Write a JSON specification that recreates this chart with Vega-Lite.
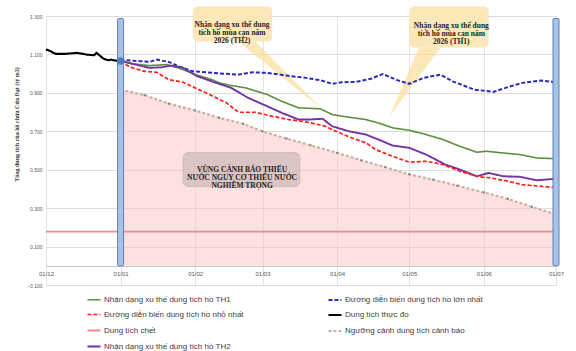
{
  "$schema": "https://vega.github.io/schema/vega-lite/v6.json",
  "width": 510,
  "height": 269,
  "autosize": {"type": "none"},
  "padding": {"left": 46, "top": 16, "right": 20, "bottom": 66},
  "background": "white",
  "config": {"view": {"stroke": null}, "font": "Liberation Sans"},
  "datasets": {
    "lines": [
      {"date": "2025-12-01", "v": 1.125, "s": "Dung tích thực đo"},
      {"date": "2025-12-02", "v": 1.122, "s": "Dung tích thực đo"},
      {"date": "2025-12-05", "v": 1.103, "s": "Dung tích thực đo"},
      {"date": "2025-12-09", "v": 1.103, "s": "Dung tích thực đo"},
      {"date": "2025-12-14", "v": 1.108, "s": "Dung tích thực đo"},
      {"date": "2025-12-18", "v": 1.099, "s": "Dung tích thực đo"},
      {"date": "2025-12-21", "v": 1.096, "s": "Dung tích thực đo"},
      {"date": "2025-12-22", "v": 1.108, "s": "Dung tích thực đo"},
      {"date": "2025-12-25", "v": 1.077, "s": "Dung tích thực đo"},
      {"date": "2025-12-27", "v": 1.070, "s": "Dung tích thực đo"},
      {"date": "2025-12-28", "v": 1.073, "s": "Dung tích thực đo"},
      {"date": "2025-12-31", "v": 1.065, "s": "Dung tích thực đo"},
      {"date": "2026-01-01", "v": 1.066, "s": "Dung tích thực đo"},

      {"date": "2026-01-01", "v": 1.066, "s": "Đường diễn biến dung tích hồ lớn nhất"},
      {"date": "2026-01-03", "v": 1.070, "s": "Đường diễn biến dung tích hồ lớn nhất"},
      {"date": "2026-01-09", "v": 1.065, "s": "Đường diễn biến dung tích hồ lớn nhất"},
      {"date": "2026-01-13", "v": 1.061, "s": "Đường diễn biến dung tích hồ lớn nhất"},
      {"date": "2026-01-16", "v": 1.073, "s": "Đường diễn biến dung tích hồ lớn nhất"},
      {"date": "2026-01-21", "v": 1.061, "s": "Đường diễn biến dung tích hồ lớn nhất"},
      {"date": "2026-01-25", "v": 1.039, "s": "Đường diễn biến dung tích hồ lớn nhất"},
      {"date": "2026-01-31", "v": 1.012, "s": "Đường diễn biến dung tích hồ lớn nhất"},
      {"date": "2026-02-06", "v": 1.007, "s": "Đường diễn biến dung tích hồ lớn nhất"},
      {"date": "2026-02-11", "v": 1.001, "s": "Đường diễn biến dung tích hồ lớn nhất"},
      {"date": "2026-02-19", "v": 0.995, "s": "Đường diễn biến dung tích hồ lớn nhất"},
      {"date": "2026-02-25", "v": 1.007, "s": "Đường diễn biến dung tích hồ lớn nhất"},
      {"date": "2026-03-03", "v": 1.004, "s": "Đường diễn biến dung tích hồ lớn nhất"},
      {"date": "2026-03-11", "v": 0.990, "s": "Đường diễn biến dung tích hồ lớn nhất"},
      {"date": "2026-03-19", "v": 0.978, "s": "Đường diễn biến dung tích hồ lớn nhất"},
      {"date": "2026-03-25", "v": 0.966, "s": "Đường diễn biến dung tích hồ lớn nhất"},
      {"date": "2026-03-30", "v": 0.947, "s": "Đường diễn biến dung tích hồ lớn nhất"},
      {"date": "2026-04-03", "v": 0.955, "s": "Đường diễn biến dung tích hồ lớn nhất"},
      {"date": "2026-04-09", "v": 0.957, "s": "Đường diễn biến dung tích hồ lớn nhất"},
      {"date": "2026-04-15", "v": 0.973, "s": "Đường diễn biến dung tích hồ lớn nhất"},
      {"date": "2026-04-20", "v": 0.998, "s": "Đường diễn biến dung tích hồ lớn nhất"},
      {"date": "2026-04-26", "v": 0.966, "s": "Đường diễn biến dung tích hồ lớn nhất"},
      {"date": "2026-05-01", "v": 0.947, "s": "Đường diễn biến dung tích hồ lớn nhất"},
      {"date": "2026-05-07", "v": 0.978, "s": "Đường diễn biến dung tích hồ lớn nhất"},
      {"date": "2026-05-14", "v": 0.995, "s": "Đường diễn biến dung tích hồ lớn nhất"},
      {"date": "2026-05-19", "v": 0.960, "s": "Đường diễn biến dung tích hồ lớn nhất"},
      {"date": "2026-05-28", "v": 0.917, "s": "Đường diễn biến dung tích hồ lớn nhất"},
      {"date": "2026-06-05", "v": 0.905, "s": "Đường diễn biến dung tích hồ lớn nhất"},
      {"date": "2026-06-10", "v": 0.926, "s": "Đường diễn biến dung tích hồ lớn nhất"},
      {"date": "2026-06-17", "v": 0.952, "s": "Đường diễn biến dung tích hồ lớn nhất"},
      {"date": "2026-06-25", "v": 0.964, "s": "Đường diễn biến dung tích hồ lớn nhất"},
      {"date": "2026-06-30", "v": 0.956, "s": "Đường diễn biến dung tích hồ lớn nhất"},

      {"date": "2026-01-01", "v": 1.066, "s": "Nhận dạng xu thế dung tích hồ TH1"},
      {"date": "2026-01-06", "v": 1.051, "s": "Nhận dạng xu thế dung tích hồ TH1"},
      {"date": "2026-01-13", "v": 1.042, "s": "Nhận dạng xu thế dung tích hồ TH1"},
      {"date": "2026-01-20", "v": 1.047, "s": "Nhận dạng xu thế dung tích hồ TH1"},
      {"date": "2026-01-25", "v": 1.030, "s": "Nhận dạng xu thế dung tích hồ TH1"},
      {"date": "2026-02-01", "v": 0.995, "s": "Nhận dạng xu thế dung tích hồ TH1"},
      {"date": "2026-02-08", "v": 0.969, "s": "Nhận dạng xu thế dung tích hồ TH1"},
      {"date": "2026-02-11", "v": 0.952, "s": "Nhận dạng xu thế dung tích hồ TH1"},
      {"date": "2026-02-16", "v": 0.938, "s": "Nhận dạng xu thế dung tích hồ TH1"},
      {"date": "2026-02-22", "v": 0.926, "s": "Nhận dạng xu thế dung tích hồ TH1"},
      {"date": "2026-03-03", "v": 0.891, "s": "Nhận dạng xu thế dung tích hồ TH1"},
      {"date": "2026-03-09", "v": 0.856, "s": "Nhận dạng xu thế dung tích hồ TH1"},
      {"date": "2026-03-16", "v": 0.822, "s": "Nhận dạng xu thế dung tích hồ TH1"},
      {"date": "2026-03-25", "v": 0.817, "s": "Nhận dạng xu thế dung tích hồ TH1"},
      {"date": "2026-03-30", "v": 0.787, "s": "Nhận dạng xu thế dung tích hồ TH1"},
      {"date": "2026-04-06", "v": 0.773, "s": "Nhận dạng xu thế dung tích hồ TH1"},
      {"date": "2026-04-13", "v": 0.761, "s": "Nhận dạng xu thế dung tích hồ TH1"},
      {"date": "2026-04-19", "v": 0.740, "s": "Nhận dạng xu thế dung tích hồ TH1"},
      {"date": "2026-04-24", "v": 0.718, "s": "Nhận dạng xu thế dung tích hồ TH1"},
      {"date": "2026-05-01", "v": 0.705, "s": "Nhận dạng xu thế dung tích hồ TH1"},
      {"date": "2026-05-08", "v": 0.683, "s": "Nhận dạng xu thế dung tích hồ TH1"},
      {"date": "2026-05-15", "v": 0.657, "s": "Nhận dạng xu thế dung tích hồ TH1"},
      {"date": "2026-05-22", "v": 0.622, "s": "Nhận dạng xu thế dung tích hồ TH1"},
      {"date": "2026-05-29", "v": 0.591, "s": "Nhận dạng xu thế dung tích hồ TH1"},
      {"date": "2026-06-02", "v": 0.596, "s": "Nhận dạng xu thế dung tích hồ TH1"},
      {"date": "2026-06-09", "v": 0.587, "s": "Nhận dạng xu thế dung tích hồ TH1"},
      {"date": "2026-06-16", "v": 0.579, "s": "Nhận dạng xu thế dung tích hồ TH1"},
      {"date": "2026-06-23", "v": 0.561, "s": "Nhận dạng xu thế dung tích hồ TH1"},
      {"date": "2026-06-30", "v": 0.558, "s": "Nhận dạng xu thế dung tích hồ TH1"},

      {"date": "2026-01-01", "v": 1.066, "s": "Nhận dạng xu thế dung tích hồ TH2"},
      {"date": "2026-01-06", "v": 1.051, "s": "Nhận dạng xu thế dung tích hồ TH2"},
      {"date": "2026-01-13", "v": 1.030, "s": "Nhận dạng xu thế dung tích hồ TH2"},
      {"date": "2026-01-18", "v": 1.033, "s": "Nhận dạng xu thế dung tích hồ TH2"},
      {"date": "2026-01-22", "v": 1.042, "s": "Nhận dạng xu thế dung tích hồ TH2"},
      {"date": "2026-01-27", "v": 1.030, "s": "Nhận dạng xu thế dung tích hồ TH2"},
      {"date": "2026-02-02", "v": 0.986, "s": "Nhận dạng xu thế dung tích hồ TH2"},
      {"date": "2026-02-09", "v": 0.955, "s": "Nhận dạng xu thế dung tích hồ TH2"},
      {"date": "2026-02-16", "v": 0.926, "s": "Nhận dạng xu thế dung tích hồ TH2"},
      {"date": "2026-02-23", "v": 0.874, "s": "Nhận dạng xu thế dung tích hồ TH2"},
      {"date": "2026-03-03", "v": 0.830, "s": "Nhận dạng xu thế dung tích hồ TH2"},
      {"date": "2026-03-09", "v": 0.796, "s": "Nhận dạng xu thế dung tích hồ TH2"},
      {"date": "2026-03-16", "v": 0.761, "s": "Nhận dạng xu thế dung tích hồ TH2"},
      {"date": "2026-03-20", "v": 0.761, "s": "Nhận dạng xu thế dung tích hồ TH2"},
      {"date": "2026-03-26", "v": 0.765, "s": "Nhận dạng xu thế dung tích hồ TH2"},
      {"date": "2026-03-30", "v": 0.726, "s": "Nhận dạng xu thế dung tích hồ TH2"},
      {"date": "2026-04-06", "v": 0.700, "s": "Nhận dạng xu thế dung tích hồ TH2"},
      {"date": "2026-04-13", "v": 0.683, "s": "Nhận dạng xu thế dung tích hồ TH2"},
      {"date": "2026-04-19", "v": 0.653, "s": "Nhận dạng xu thế dung tích hồ TH2"},
      {"date": "2026-04-24", "v": 0.626, "s": "Nhận dạng xu thế dung tích hồ TH2"},
      {"date": "2026-05-01", "v": 0.614, "s": "Nhận dạng xu thế dung tích hồ TH2"},
      {"date": "2026-05-08", "v": 0.579, "s": "Nhận dạng xu thế dung tích hồ TH2"},
      {"date": "2026-05-16", "v": 0.527, "s": "Nhận dạng xu thế dung tích hồ TH2"},
      {"date": "2026-05-22", "v": 0.501, "s": "Nhận dạng xu thế dung tích hồ TH2"},
      {"date": "2026-05-29", "v": 0.466, "s": "Nhận dạng xu thế dung tích hồ TH2"},
      {"date": "2026-06-03", "v": 0.483, "s": "Nhận dạng xu thế dung tích hồ TH2"},
      {"date": "2026-06-09", "v": 0.466, "s": "Nhận dạng xu thế dung tích hồ TH2"},
      {"date": "2026-06-16", "v": 0.463, "s": "Nhận dạng xu thế dung tích hồ TH2"},
      {"date": "2026-06-23", "v": 0.445, "s": "Nhận dạng xu thế dung tích hồ TH2"},
      {"date": "2026-06-30", "v": 0.452, "s": "Nhận dạng xu thế dung tích hồ TH2"},

      {"date": "2026-01-01", "v": 1.066, "s": "Đường diễn biến dung tích hồ nhỏ nhất"},
      {"date": "2026-01-03", "v": 1.047, "s": "Đường diễn biến dung tích hồ nhỏ nhất"},
      {"date": "2026-01-06", "v": 1.030, "s": "Đường diễn biến dung tích hồ nhỏ nhất"},
      {"date": "2026-01-11", "v": 1.012, "s": "Đường diễn biến dung tích hồ nhỏ nhất"},
      {"date": "2026-01-16", "v": 1.007, "s": "Đường diễn biến dung tích hồ nhỏ nhất"},
      {"date": "2026-01-21", "v": 0.969, "s": "Đường diễn biến dung tích hồ nhỏ nhất"},
      {"date": "2026-01-27", "v": 0.955, "s": "Đường diễn biến dung tích hồ nhỏ nhất"},
      {"date": "2026-02-01", "v": 0.926, "s": "Đường diễn biến dung tích hồ nhỏ nhất"},
      {"date": "2026-02-07", "v": 0.891, "s": "Đường diễn biến dung tích hồ nhỏ nhất"},
      {"date": "2026-02-14", "v": 0.848, "s": "Đường diễn biến dung tích hồ nhỏ nhất"},
      {"date": "2026-02-19", "v": 0.799, "s": "Đường diễn biến dung tích hồ nhỏ nhất"},
      {"date": "2026-02-26", "v": 0.799, "s": "Đường diễn biến dung tích hồ nhỏ nhất"},
      {"date": "2026-03-05", "v": 0.778, "s": "Đường diễn biến dung tích hồ nhỏ nhất"},
      {"date": "2026-03-12", "v": 0.761, "s": "Đường diễn biến dung tích hồ nhỏ nhất"},
      {"date": "2026-03-20", "v": 0.747, "s": "Đường diễn biến dung tích hồ nhỏ nhất"},
      {"date": "2026-03-27", "v": 0.726, "s": "Đường diễn biến dung tích hồ nhỏ nhất"},
      {"date": "2026-04-02", "v": 0.692, "s": "Đường diễn biến dung tích hồ nhỏ nhất"},
      {"date": "2026-04-07", "v": 0.666, "s": "Đường diễn biến dung tích hồ nhỏ nhất"},
      {"date": "2026-04-13", "v": 0.640, "s": "Đường diễn biến dung tích hồ nhỏ nhất"},
      {"date": "2026-04-17", "v": 0.605, "s": "Đường diễn biến dung tích hồ nhỏ nhất"},
      {"date": "2026-04-24", "v": 0.570, "s": "Đường diễn biến dung tích hồ nhỏ nhất"},
      {"date": "2026-05-01", "v": 0.539, "s": "Đường diễn biến dung tích hồ nhỏ nhất"},
      {"date": "2026-05-08", "v": 0.544, "s": "Đường diễn biến dung tích hồ nhỏ nhất"},
      {"date": "2026-05-15", "v": 0.527, "s": "Đường diễn biến dung tích hồ nhỏ nhất"},
      {"date": "2026-05-22", "v": 0.492, "s": "Đường diễn biến dung tích hồ nhỏ nhất"},
      {"date": "2026-05-30", "v": 0.463, "s": "Đường diễn biến dung tích hồ nhỏ nhất"},
      {"date": "2026-06-04", "v": 0.457, "s": "Đường diễn biến dung tích hồ nhỏ nhất"},
      {"date": "2026-06-10", "v": 0.443, "s": "Đường diễn biến dung tích hồ nhỏ nhất"},
      {"date": "2026-06-17", "v": 0.422, "s": "Đường diễn biến dung tích hồ nhỏ nhất"},
      {"date": "2026-06-30", "v": 0.408, "s": "Đường diễn biến dung tích hồ nhỏ nhất"},

      {"date": "2025-12-01", "v": 0.178, "s": "Dung tích chết"},
      {"date": "2026-07-01", "v": 0.178, "s": "Dung tích chết"},

      {"date": "2026-01-01", "v": 0.917, "s": "Ngưỡng cảnh dung tích cảnh báo"},
      {"date": "2026-01-11", "v": 0.888, "s": "Ngưỡng cảnh dung tích cảnh báo"},
      {"date": "2026-01-21", "v": 0.844, "s": "Ngưỡng cảnh dung tích cảnh báo"},
      {"date": "2026-02-01", "v": 0.808, "s": "Ngưỡng cảnh dung tích cảnh báo"},
      {"date": "2026-02-11", "v": 0.770, "s": "Ngưỡng cảnh dung tích cảnh báo"},
      {"date": "2026-02-21", "v": 0.739, "s": "Ngưỡng cảnh dung tích cảnh báo"},
      {"date": "2026-03-01", "v": 0.700, "s": "Ngưỡng cảnh dung tích cảnh báo"},
      {"date": "2026-03-11", "v": 0.662, "s": "Ngưỡng cảnh dung tích cảnh báo"},
      {"date": "2026-03-21", "v": 0.627, "s": "Ngưỡng cảnh dung tích cảnh báo"},
      {"date": "2026-04-01", "v": 0.588, "s": "Ngưỡng cảnh dung tích cảnh báo"},
      {"date": "2026-04-11", "v": 0.549, "s": "Ngưỡng cảnh dung tích cảnh báo"},
      {"date": "2026-04-21", "v": 0.513, "s": "Ngưỡng cảnh dung tích cảnh báo"},
      {"date": "2026-05-01", "v": 0.476, "s": "Ngưỡng cảnh dung tích cảnh báo"},
      {"date": "2026-05-11", "v": 0.448, "s": "Ngưỡng cảnh dung tích cảnh báo"},
      {"date": "2026-05-21", "v": 0.417, "s": "Ngưỡng cảnh dung tích cảnh báo"},
      {"date": "2026-06-01", "v": 0.382, "s": "Ngưỡng cảnh dung tích cảnh báo"},
      {"date": "2026-06-11", "v": 0.348, "s": "Ngưỡng cảnh dung tích cảnh báo"},
      {"date": "2026-06-21", "v": 0.306, "s": "Ngưỡng cảnh dung tích cảnh báo"},
      {"date": "2026-07-01", "v": 0.268, "s": "Ngưỡng cảnh dung tích cảnh báo"}
    ]
  },
  "encoding": {
    "x": {
      "field": "date", "type": "temporal",
      "scale": {"domain": [{"year": 2025, "month": 12, "date": 1}, {"year": 2026, "month": 7, "date": 1}]},
      "axis": {
        "title": null, "format": "%d/%m",
        "values": [
          {"year": 2025, "month": 12, "date": 1}, {"year": 2026, "month": 1, "date": 1},
          {"year": 2026, "month": 2, "date": 1}, {"year": 2026, "month": 3, "date": 1},
          {"year": 2026, "month": 4, "date": 1}, {"year": 2026, "month": 5, "date": 1},
          {"year": 2026, "month": 6, "date": 1}, {"year": 2026, "month": 7, "date": 1}
        ],
        "offset": -19, "ticks": false, "labelPadding": 4, "labelFontSize": 6,
        "labelColor": "#595959", "domainColor": "#c8c8c8", "grid": true, "gridColor": "#e3e3e3",
        "labelFlush": false
      }
    },
    "y": {
      "field": "v", "type": "quantitative",
      "scale": {"domain": [-0.1, 1.3], "nice": false, "zero": false},
      "axis": {
        "values": [-0.1, 0.1, 0.3, 0.5, 0.7, 0.9, 1.1, 1.3], "format": ".3f",
        "title": "Tổng dung tích của hồ chứa Cửa Đạt (tỷ m3)", "titleFontSize": 6,
        "titleFont": "Liberation Serif", "titleColor": "#404040", "titleY": 108, "titleX": -27,
        "labelFontSize": 5, "labelColor": "#595959", "labelPadding": 4,
        "domain": false, "ticks": false, "gridColor": "#dcdcdc"
      }
    }
  },
  "layer": [
    {
      "data": {"name": "lines"},
      "transform": [{"filter": "datum.s == 'Ngưỡng cảnh dung tích cảnh báo'"}],
      "mark": {"type": "area", "color": "#fbc4c4", "opacity": 0.5},
      "encoding": {"y2": {"datum": 0}}
    },
    {
      "data": {"values": [
        {"date": "2026-02-19", "v": 1.167, "v2": 1.167, "g": "TH2"},
        {"date": "2026-02-26", "v": 1.167, "v2": 1.094, "g": "TH2"},
        {"date": "2026-03-26", "v": 0.813, "v2": 0.813, "g": "TH2"},
        {"date": "2026-04-23", "v": 0.782, "v2": 0.782, "g": "TH1"},
        {"date": "2026-05-05", "v": 1.136, "v2": 0.984, "g": "TH1"},
        {"date": "2026-05-14", "v": 1.136, "v2": 1.136, "g": "TH1"}
      ]},
      "mark": {"type": "area", "color": "#f9df9f", "opacity": 0.75},
      "encoding": {"y2": {"field": "v2"}, "detail": {"field": "g"}}
    },
    {
      "data": {"values": [
        {"date": "2026-01-31", "date2": "2026-03-05", "v": 1.349, "v2": 1.167},
        {"date": "2026-05-01", "date2": "2026-06-03", "v": 1.349, "v2": 1.136}
      ]},
      "mark": {"type": "rect", "color": "#fbe6b4", "cornerRadius": 5, "opacity": 0.95},
      "encoding": {"x2": {"field": "date2"}, "y2": {"field": "v2"}}
    },
    {
      "data": {"values": [
        {"date": "2026-01-27", "date2": "2026-03-16T12:00", "v": 0.589, "v2": 0.412}
      ]},
      "mark": {"type": "rect", "fill": "#d8c1c1", "stroke": "#c9afaf", "strokeWidth": 0.8, "cornerRadius": 5, "opacity": 0.9},
      "encoding": {"x2": {"field": "date2"}, "y2": {"field": "v2"}}
    },
    {
      "data": {"name": "lines"},
      "mark": {"type": "line", "strokeCap": "butt"},
      "encoding": {
        "color": {
          "field": "s", "type": "nominal",
          "scale": {
            "domain": ["Nhận dạng xu thế dung tích hồ TH1", "Đường diễn biến dung tích hồ nhỏ nhất", "Dung tích chết", "Nhận dạng xu thế dung tích hồ TH2", "Đường diễn biến dung tích hồ lớn nhất", "Dung tích thực đo", "Ngưỡng cảnh dung tích cảnh báo"],
            "range": ["#5e8f3e", "#ff1f1f", "#f28a8a", "#7233a6", "#2b2bb5", "#000000", "#cfb0a0"]
          },
          "legend": {
            "title": null, "orient": "none", "legendX": 40, "legendY": 276, "columns": 2,
            "columnPadding": 80, "rowPadding": 3, "labelFontSize": 8, "labelColor": "#404040",
            "symbolType": "stroke", "symbolSize": 170, "symbolStrokeWidth": 2, "labelOffset": 2, "padding": 0
          }
        },
        "strokeDash": {
          "field": "s", "type": "nominal",
          "scale": {
            "domain": ["Nhận dạng xu thế dung tích hồ TH1", "Đường diễn biến dung tích hồ nhỏ nhất", "Dung tích chết", "Nhận dạng xu thế dung tích hồ TH2", "Đường diễn biến dung tích hồ lớn nhất", "Dung tích thực đo", "Ngưỡng cảnh dung tích cảnh báo"],
            "range": [[1, 0], [4, 2], [1, 0], [1, 0], [4, 2], [1, 0], [3, 2]]
          },
          "legend": {
            "title": null, "orient": "none", "legendX": 40, "legendY": 276, "columns": 2,
            "columnPadding": 80, "rowPadding": 3, "labelFontSize": 8, "labelColor": "#404040",
            "symbolType": "stroke", "symbolSize": 170, "symbolStrokeWidth": 2, "labelOffset": 2, "padding": 0
          }
        },
        "strokeWidth": {
          "field": "s", "type": "nominal", "legend": null,
          "scale": {
            "domain": ["Nhận dạng xu thế dung tích hồ TH1", "Đường diễn biến dung tích hồ nhỏ nhất", "Dung tích chết", "Nhận dạng xu thế dung tích hồ TH2", "Đường diễn biến dung tích hồ lớn nhất", "Dung tích thực đo", "Ngưỡng cảnh dung tích cảnh báo"],
            "range": [1.6, 2.2, 1.2, 1.6, 2.2, 1.6, 1.0]
          }
        }
      }
    },
    {
      "data": {"name": "lines"},
      "transform": [{"filter": "datum.s == 'Ngưỡng cảnh dung tích cảnh báo' && datum.date != '2026-01-01' && datum.date != '2026-07-01'"}],
      "mark": {"type": "point", "filled": true, "color": "#7f7f7f", "size": 5, "opacity": 1}
    },
    {
      "data": {"values": [
        {"date": "2025-12-30T18:00", "date2": "2026-01-02T06:00", "v": 1.287, "v2": 0},
        {"date": "2026-06-29T18:00", "date2": "2026-07-02T06:00", "v": 1.287, "v2": 0}
      ]},
      "mark": {"type": "rect", "fill": "#a8c2e6", "stroke": "#5b80bf", "strokeWidth": 1, "cornerRadius": 1},
      "encoding": {"x2": {"field": "date2"}, "y2": {"field": "v2"}}
    },
    {
      "data": {"values": [{"date": "2026-01-01", "v": 1.066}]},
      "mark": {"type": "point", "filled": true, "color": "#4a7dbf", "size": 55, "opacity": 1}
    },
    {
      "data": {"values": [
        {"date": "2026-02-16T08:00", "v": 1.252, "t": "Nhận dạng xu thế dung\ntích hồ mùa cạn năm\n2026 (TH2)"},
        {"date": "2026-05-18T12:00", "v": 1.250, "t": "Nhận dạng xu thế dung\ntích hồ mùa cạn năm\n2026 (TH1)"},
        {"date": "2026-02-20T12:00", "v": 0.501, "t": "VÙNG CẢNH BÁO THIẾU\nNƯỚC NGUY CƠ THIẾU NƯỚC\nNGHIÊM TRỌNG"}
      ]},
      "mark": {"type": "text", "font": "Liberation Serif", "fontWeight": "bold", "fontSize": 7.5, "lineHeight": 8, "lineBreak": "\n", "color": "#262626", "align": "center", "baseline": "middle"},
      "encoding": {"text": {"field": "t"}}
    }
  ]
}
